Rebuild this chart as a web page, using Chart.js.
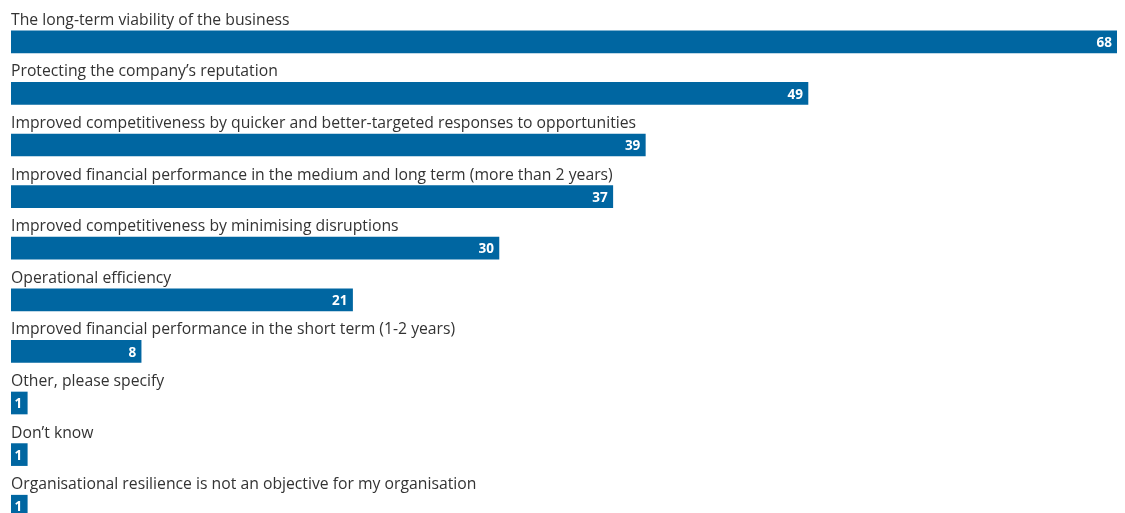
<!DOCTYPE html>
<html>
<head>
<meta charset="utf-8">
<script src="https://cdn.jsdelivr.net/npm/chart.js@4"></script>
<style>
  html, body { margin: 0; padding: 0; background: #fff; overflow: hidden; }
  #wrap { width: 1125px; height: 540px; }
</style>
</head>
<body>
<div id="wrap"><canvas id="myChart" width="1125" height="540"></canvas></div>
<script>
// Survey answers and share of respondents (%)
const answers = [
  "The long-term viability of the business",
  "Protecting the company\u2019s reputation",
  "Improved competitiveness by quicker and better-targeted responses to opportunities",
  "Improved financial performance in the medium and long term (more than 2 years)",
  "Improved competitiveness by minimising disruptions",
  "Operational efficiency",
  "Improved financial performance in the short term (1-2 years)",
  "Other, please specify",
  "Don\u2019t know",
  "Organisational resilience is not an objective for my organisation"
];
const shares = [68, 49, 39, 37, 30, 21, 8, 1, 1, 1];

const barColor = "#0066a1";
const textColor = "#333333";
const labelFont = '17px "Open Sans", sans-serif';
const valueFont = 'bold 15px "Open Sans", sans-serif';
// the original uses a condensed face, so squeeze the text a little
const squeeze = 0.926;

// Draw the answer text above each bar and the value inside its end
const barLabels = {
  id: "barLabels",
  afterDatasetsDraw(chart) {
    const ctx = chart.ctx;
    const meta = chart.getDatasetMeta(0);
    meta.data.forEach((bar, i) => {
      const top = bar.y - bar.height / 2;

      ctx.save();
      ctx.translate(bar.base, top - 6);
      ctx.scale(squeeze, 1);
      ctx.font = labelFont;
      ctx.fillStyle = textColor;
      ctx.textAlign = "left";
      ctx.textBaseline = "alphabetic";
      ctx.fillText(answers[i], 0, 0);
      ctx.restore();

      ctx.save();
      ctx.translate(bar.x - 5, bar.y + 1);
      ctx.scale(0.9, 1);
      ctx.font = valueFont;
      ctx.fillStyle = "#ffffff";
      ctx.textAlign = "right";
      ctx.textBaseline = "middle";
      ctx.fillText(shares[i], 0, 0);
      ctx.restore();
    });
  }
};

const chart = new Chart(document.getElementById("myChart"), {
  type: "bar",
  data: {
    labels: answers,
    datasets: [{
      data: shares,
      backgroundColor: barColor,
      borderWidth: 0,
      barThickness: 22
    }]
  },
  options: {
    indexAxis: "y",
    responsive: false,
    animation: false,
    layout: { padding: { left: 11, right: 8, top: 16, bottom: 8 } },
    plugins: {
      legend: { display: false },
      tooltip: { enabled: false }
    },
    scales: {
      x: { display: false, min: 0, max: 68 },
      y: { display: false }
    }
  },
  plugins: [barLabels]
});
</script>
</body>
</html>
